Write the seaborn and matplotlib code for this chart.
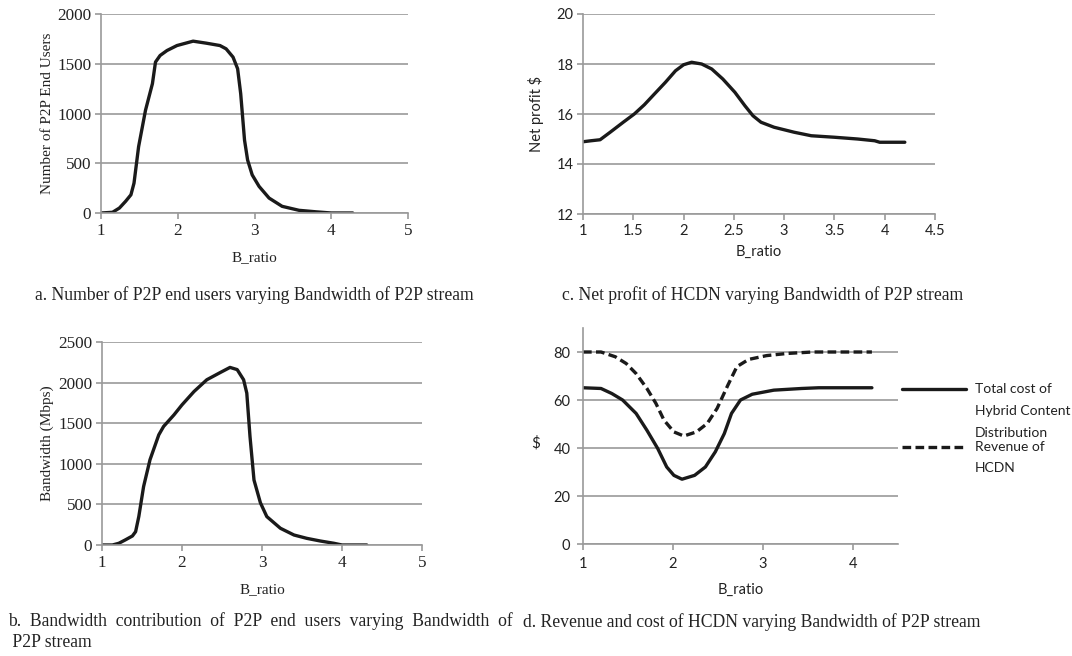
import numpy as np
import pandas as pd
import matplotlib
matplotlib.use("Agg")
import matplotlib.pyplot as plt
from matplotlib.lines import Line2D
import seaborn as sns

# ---- data ----
a_x = [1.0, 1.15, 1.24, 1.32, 1.39, 1.43, 1.49, 1.58, 1.67, 1.71, 1.77, 1.86, 1.99, 2.2, 2.37,
       2.55, 2.63, 2.72, 2.78, 2.82, 2.87, 2.91, 2.97, 3.06, 3.19, 3.36, 3.58, 3.8, 4.0, 4.28]
a_y = [0, 7, 50, 117, 183, 300, 667, 1033, 1300, 1517, 1583, 1633, 1683, 1727, 1707,
       1683, 1650, 1567, 1450, 1200, 733, 533, 383, 267, 150, 67, 27, 12, 0, 0]

b_x = [1.0, 1.13, 1.21, 1.29, 1.38, 1.42, 1.46, 1.52, 1.6, 1.71, 1.77, 1.9, 2.0, 2.15, 2.31,
       2.48, 2.6, 2.69, 2.77, 2.81, 2.85, 2.9, 2.98, 3.06, 3.23, 3.4, 3.56, 3.73, 3.9, 4.0, 4.31]
b_y = [0, 0, 21, 62, 111, 164, 350, 720, 1050, 1357, 1460, 1603, 1726, 1890, 2035,
       2125, 2187, 2160, 2035, 1870, 1336, 800, 520, 350, 206, 123, 82, 49, 21, 0, 0]

c_x = [1.0, 1.08, 1.17, 1.27, 1.4, 1.51, 1.61, 1.71, 1.82, 1.92, 2.0, 2.08, 2.18, 2.28, 2.39,
       2.51, 2.61, 2.69, 2.77, 2.9, 3.1, 3.27, 3.5, 3.73, 3.9, 3.95, 4.2]
c_y = [14.89, 14.93, 14.97, 15.27, 15.67, 16.0, 16.37, 16.8, 17.27, 17.73, 17.97, 18.07, 18.0,
       17.8, 17.4, 16.87, 16.33, 15.93, 15.67, 15.47, 15.27, 15.13, 15.07, 15.0, 14.93, 14.87, 14.87]

d_x = [1.0, 1.2, 1.32, 1.44, 1.59, 1.71, 1.83, 1.93, 2.01, 2.1, 2.24, 2.36, 2.47, 2.57, 2.65,
       2.75, 2.88, 3.12, 3.43, 3.62, 4.21]
d_cost = [65.1, 64.8, 62.7, 60.0, 54.4, 47.4, 39.8, 32.1, 28.6, 27.0, 28.6, 32.1, 38.4, 46.0, 54.4,
          60.0, 62.4, 64.1, 64.8, 65.1, 65.1]
d_rx = [1.0, 1.2, 1.36, 1.48, 1.59, 1.71, 1.81, 1.9, 2.01, 2.12, 2.26, 2.38, 2.49, 2.61, 2.71,
        2.84, 3.04, 3.27, 3.55, 4.21]
d_rev = [80, 80, 78, 75.2, 71, 64.8, 58.6, 51.6, 46.7, 45, 46.7, 50.2, 56.5, 66.2, 73.9,
         76.9, 78.5, 79.4, 80, 80]

cost_label = ["Total cost of", "Hybrid Content", "Distribution"]
rev_label = ["Revenue of", "HCDN"]

captions = {
    "a": "a. Number of P2P end users varying Bandwidth of P2P stream",
    "c": "c. Net profit of HCDN varying Bandwidth of P2P stream",
    "b": "b.  Bandwidth  contribution  of  P2P  end  users  varying  Bandwidth  of\n P2P stream",
    "d": "d. Revenue and cost of HCDN varying Bandwidth of P2P stream",
}

# ---- style ----
sns.set_style("white")
GRID = "#9a9a9a"
LINE = "#1a1a1a"
TXT = "#222222"
SERIF = ["Liberation Serif", "DejaVu Serif"]
SANS = ["Lato", "DejaVu Sans"]
plt.rcParams["font.family"] = SERIF

fig = plt.figure(figsize=(10.72, 6.56), dpi=100)
W, H = 1072, 656


def axes_px(l, r, t, b):
    return fig.add_axes([l / W, 1 - b / H, (r - l) / W, (b - t) / H])


def style(ax, fam, fs, pad=3):
    for s in ["top", "right"]:
        ax.spines[s].set_visible(False)
    for s in ["left", "bottom"]:
        ax.spines[s].set_color(GRID)
        ax.spines[s].set_linewidth(1.2)
    ax.yaxis.grid(True, color=GRID, linewidth=1.2)
    ax.xaxis.grid(False)
    ax.set_axisbelow(True)
    ax.tick_params(axis="both", bottom=True, left=True, length=4, width=1.2, color=GRID,
                   labelsize=fs, labelcolor=TXT, pad=pad)
    for lab in ax.get_xticklabels() + ax.get_yticklabels():
        lab.set_family(fam)


def fmt(v):
    return f"{v:g}"


# Panel a
ax = axes_px(101, 408, 14, 213)
sns.lineplot(x=a_x, y=a_y, ax=ax, color=LINE, linewidth=2.4, sort=False, estimator=None)
ax.set_xlim(1, 5); ax.set_ylim(0, 2000)
ax.set_xticks([1, 2, 3, 4, 5]); ax.set_yticks([0, 500, 1000, 1500, 2000])
style(ax, SERIF, 12.3)
ax.set_xlabel("B_ratio", family=SERIF, fontsize=11, labelpad=9, color=TXT)
ax.set_ylabel("Number of P2P End Users", family=SERIF, fontsize=11, color=TXT)
ax.yaxis.set_label_coords(-0.153, 0.5)

# Panel c
ax = axes_px(583, 935, 14, 214)
sns.lineplot(x=c_x, y=c_y, ax=ax, color=LINE, linewidth=2.4, sort=False, estimator=None)
ax.set_xlim(1, 4.5); ax.set_ylim(12, 20)
ax.set_xticks([1, 1.5, 2, 2.5, 3, 3.5, 4, 4.5]); ax.set_yticks([12, 14, 16, 18, 20])
ax.set_xticklabels([fmt(v) for v in [1, 1.5, 2, 2.5, 3, 3.5, 4, 4.5]])
style(ax, SANS, 10.5)
ax.set_xlabel("B_ratio", family=SANS, fontsize=10.5, labelpad=5, color=TXT)
ax.set_ylabel("Net profit $", family=SANS, fontsize=10.5, color=TXT)
ax.yaxis.set_label_coords(-0.111, 0.5)

# Panel b
ax = axes_px(102, 422, 342, 545)
sns.lineplot(x=b_x, y=b_y, ax=ax, color=LINE, linewidth=2.4, sort=False, estimator=None)
ax.set_xlim(1, 5); ax.set_ylim(0, 2500)
ax.set_xticks([1, 2, 3, 4, 5]); ax.set_yticks([0, 500, 1000, 1500, 2000, 2500])
style(ax, SERIF, 12.3)
ax.set_xlabel("B_ratio", family=SERIF, fontsize=11, labelpad=9, color=TXT)
ax.set_ylabel("Bandwidth (Mbps)", family=SERIF, fontsize=11, color=TXT)
ax.yaxis.set_label_coords(-0.15, 0.5)

# Panel d
ax = axes_px(583, 898, 328, 544)
sns.lineplot(x=d_x, y=d_cost, ax=ax, color=LINE, linewidth=2.4, sort=False, estimator=None)
sns.lineplot(x=d_rx, y=d_rev, ax=ax, color=LINE, linewidth=2.4, sort=False, estimator=None)
ax.lines[-1].set_dashes((2.6, 1.3))
ax.set_xlim(1, 4.5); ax.set_ylim(0, 90)
ax.set_xticks([1, 2, 3, 4]); ax.set_yticks([0, 20, 40, 60, 80])
style(ax, SANS, 10.5, pad=5)
ax.set_xlabel("B_ratio", family=SANS, fontsize=10.5, labelpad=9, color=TXT)
ax.set_ylabel("$", family=SANS, fontsize=11, rotation=0, va="center", ha="center", color=TXT)
ax.yaxis.set_label_coords(-0.149, 0.468)

# legend for panel d (drawn in figure coordinates)
fig.add_artist(Line2D([902 / W, 966 / W], [1 - 389 / H, 1 - 389 / H], color=LINE, linewidth=2.4))
fig.add_artist(Line2D([902 / W, 966 / W], [1 - 447 / H, 1 - 447 / H], color=LINE, linewidth=2.4,
                      dashes=(2.6, 1.3)))
for i, t in enumerate(cost_label):
    fig.text(975 / W, 1 - (389 + 22 * i) / H, t, family=SANS, fontsize=10,
             va="center", ha="left", color=TXT)
for i, t in enumerate(rev_label):
    fig.text(975 / W, 1 - (447 + 21 * i) / H, t, family=SANS, fontsize=10,
             va="center", ha="left", color=TXT)

# captions
fig.text(35 / W, 1 - 295 / H, captions["a"], family=SERIF, fontsize=12.7, va="center", color=TXT)
fig.text(562 / W, 1 - 295 / H, captions["c"], family=SERIF, fontsize=12.7, va="center", color=TXT)
fig.text(8 / W, 1 - 612 / H, captions["b"], family=SERIF, fontsize=12.7, va="top",
         linespacing=1.35, color=TXT)
fig.text(523 / W, 1 - 622 / H, captions["d"], family=SERIF, fontsize=12.7, va="center", color=TXT)

fig.savefig("out.png", dpi=100, facecolor="white")
